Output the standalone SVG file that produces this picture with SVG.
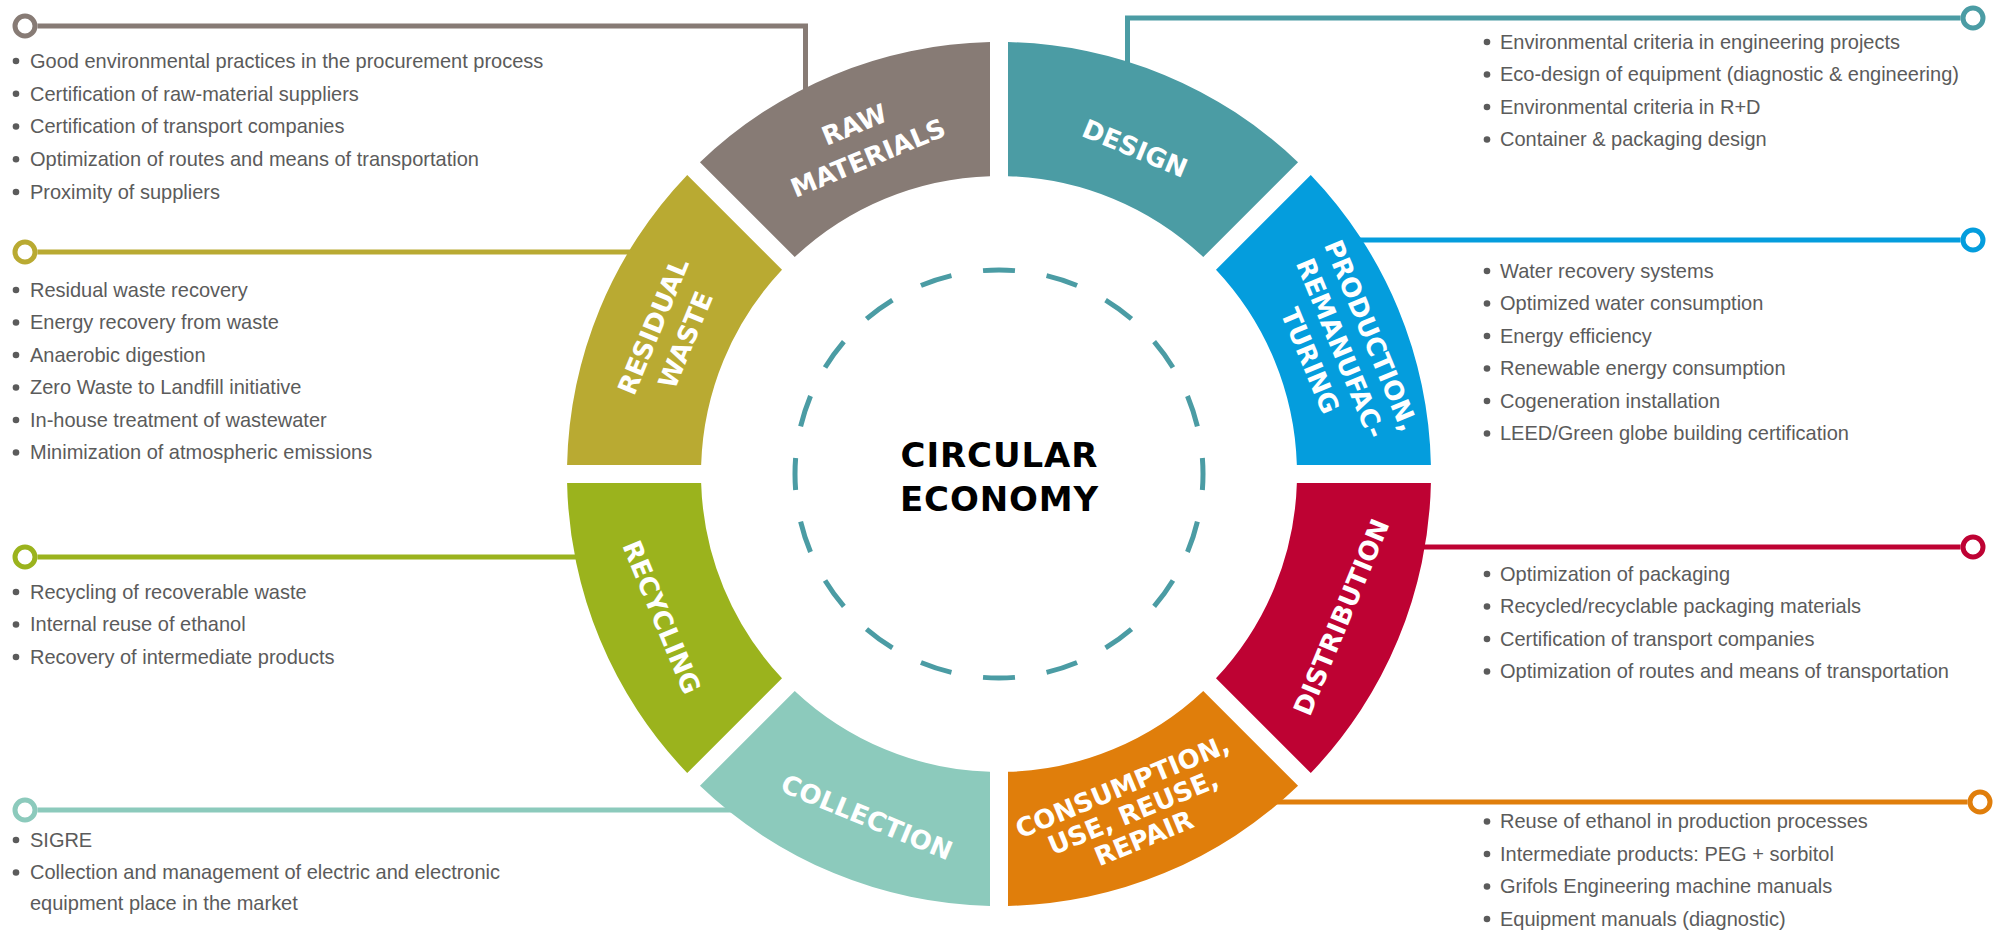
<svg xmlns="http://www.w3.org/2000/svg" width="2002" height="932" viewBox="0 0 2002 932">
<style>
.lbl{font-family:"DejaVu Sans",sans-serif;font-weight:700;font-size:26px;fill:#fff;text-anchor:middle}
.item{font-family:"Liberation Sans",Arial,sans-serif;font-size:21px;fill:#5b5b5b}
.b{fill:#5b5b5b}
.conn{fill:none;stroke-width:5}
.dot{fill:#fff;stroke-width:5}
.center{font-family:"DejaVu Sans",sans-serif;font-weight:700;font-size:34px;fill:#000;text-anchor:middle}
</style>
<rect width="2002" height="932" fill="#fff"/>
<g id="connectors">
  <path class="conn" stroke="#877b75" d="M37.5 26H805.5V100"/>
  <circle class="dot" stroke="#877b75" cx="25" cy="26" r="10"/>
  <path class="conn" stroke="#b9aa32" d="M37.5 252H645"/>
  <circle class="dot" stroke="#b9aa32" cx="25" cy="252" r="10"/>
  <path class="conn" stroke="#9bb31d" d="M37.5 557H590"/>
  <circle class="dot" stroke="#9bb31d" cx="25" cy="557" r="10"/>
  <path class="conn" stroke="#8ccabc" d="M37.5 810H745"/>
  <circle class="dot" stroke="#8ccabc" cx="25" cy="810" r="10"/>
  <path class="conn" stroke="#4b9ca4" d="M1960.5 18H1127.5V80"/>
  <circle class="dot" stroke="#4b9ca4" cx="1973" cy="18" r="10"/>
  <path class="conn" stroke="#049ddd" d="M1960.5 240H1350"/>
  <circle class="dot" stroke="#049ddd" cx="1973" cy="240" r="10"/>
  <path class="conn" stroke="#be0233" d="M1960.5 547H1410"/>
  <circle class="dot" stroke="#be0233" cx="1973" cy="547" r="10"/>
  <path class="conn" stroke="#e07e0b" d="M1967.5 802H1265"/>
  <circle class="dot" stroke="#e07e0b" cx="1980" cy="802" r="10"/>
</g>
<g id="center">
  <circle cx="999" cy="474" r="204" fill="none" stroke="#4b9ca4" stroke-width="5" pathLength="1280" stroke-dasharray="32 32" stroke-dashoffset="16"/>
  <text class="center" x="999" y="467" textLength="197" lengthAdjust="spacing">CIRCULAR</text>
  <text class="center" x="999" y="511" textLength="198" lengthAdjust="spacing">ECONOMY</text>
</g>
<g id="raw-materials">
  <path fill="#877b75" d="M990 42.09A432 432 0 0 0 699.96 162.23L794.74 257.01A298 298 0 0 1 990 176.14Z"/>
  <g transform="translate(861 141) rotate(-22.5)">
    <text class="lbl" x="0" y="-8.5">RAW</text>
    <text class="lbl" x="0" y="27.5">MATERIALS</text>
  </g>
  <g class="b"><circle cx="16" cy="61" r="3.3"/><circle cx="16" cy="93.75" r="3.3"/><circle cx="16" cy="126.5" r="3.3"/><circle cx="16" cy="159.25" r="3.3"/><circle cx="16" cy="192" r="3.3"/></g>
  <g transform="translate(30 0) scale(0.952 1)">
    <text class="item" x="0" y="68">Good environmental practices in the procurement process</text>
    <text class="item" x="0" y="100.75">Certification of raw-material suppliers</text>
    <text class="item" x="0" y="133.5">Certification of transport companies</text>
    <text class="item" x="0" y="166.25">Optimization of routes and means of transportation</text>
    <text class="item" x="0" y="199">Proximity of suppliers</text>
  </g>
</g>
<g id="residual-waste">
  <path fill="#b9aa32" d="M687.23 174.96A432 432 0 0 0 567.09 465L701.14 465A298 298 0 0 1 782.01 269.74Z"/>
  <g transform="translate(669 333) rotate(-67.5)">
    <text class="lbl" x="0" y="-8">RESIDUAL</text>
    <text class="lbl" x="0" y="27">WASTE</text>
  </g>
  <g class="b"><circle cx="16" cy="290" r="3.3"/><circle cx="16" cy="322.5" r="3.3"/><circle cx="16" cy="355" r="3.3"/><circle cx="16" cy="387.5" r="3.3"/><circle cx="16" cy="420" r="3.3"/><circle cx="16" cy="452.5" r="3.3"/></g>
  <g transform="translate(30 0) scale(0.952 1)">
    <text class="item" x="0" y="297">Residual waste recovery</text>
    <text class="item" x="0" y="329.5">Energy recovery from waste</text>
    <text class="item" x="0" y="362">Anaerobic digestion</text>
    <text class="item" x="0" y="394.5">Zero Waste to Landfill initiative</text>
    <text class="item" x="0" y="427">In-house treatment of wastewater</text>
    <text class="item" x="0" y="459.5">Minimization of atmospheric emissions</text>
  </g>
</g>
<g id="recycling">
  <path fill="#9bb31d" d="M567.09 483A432 432 0 0 0 687.23 773.04L782.01 678.26A298 298 0 0 1 701.14 483Z"/>
  <g transform="translate(662 617) rotate(67.5)">
    <text class="lbl" x="0" y="9.5">RECYCLING</text>
  </g>
  <g class="b"><circle cx="16" cy="592" r="3.3"/><circle cx="16" cy="624.5" r="3.3"/><circle cx="16" cy="657" r="3.3"/></g>
  <g transform="translate(30 0) scale(0.952 1)">
    <text class="item" x="0" y="599">Recycling of recoverable waste</text>
    <text class="item" x="0" y="631.5">Internal reuse of ethanol</text>
    <text class="item" x="0" y="664">Recovery of intermediate products</text>
  </g>
</g>
<g id="collection">
  <path fill="#8ccabc" d="M699.96 785.77A432 432 0 0 0 990 905.91L990 771.86A298 298 0 0 1 794.74 690.99Z"/>
  <g transform="translate(867 817) rotate(22.5)">
    <text class="lbl" x="0" y="9.5">COLLECTION</text>
  </g>
  <g class="b"><circle cx="16" cy="840" r="3.3"/><circle cx="16" cy="872.5" r="3.3"/></g>
  <g transform="translate(30 0) scale(0.952 1)">
    <text class="item" x="0" y="847">SIGRE</text>
    <text class="item" x="0" y="879.5">Collection and management of electric and electronic</text>
    <text class="item" x="0" y="910">equipment place in the market</text>
  </g>
</g>
<g id="consumption">
  <path fill="#e07e0b" d="M1008 905.91A432 432 0 0 0 1298.04 785.77L1203.26 690.99A298 298 0 0 1 1008 771.86Z"/>
  <g transform="translate(1133 812) rotate(-22.5)">
    <text class="lbl" x="0" y="-18.5">CONSUMPTION,</text>
    <text class="lbl" x="0" y="9.5">USE, REUSE,</text>
    <text class="lbl" x="0" y="37.5">REPAIR</text>
  </g>
  <g class="b"><circle cx="1487" cy="821.5" r="3.3"/><circle cx="1487" cy="854" r="3.3"/><circle cx="1487" cy="886.5" r="3.3"/><circle cx="1487" cy="919" r="3.3"/></g>
  <g transform="translate(1500 0) scale(0.952 1)">
    <text class="item" x="0" y="828.5">Reuse of ethanol in production processes</text>
    <text class="item" x="0" y="861">Intermediate products: PEG + sorbitol</text>
    <text class="item" x="0" y="893.5">Grifols Engineering machine manuals</text>
    <text class="item" x="0" y="926">Equipment manuals (diagnostic)</text>
  </g>
</g>
<g id="distribution">
  <path fill="#be0233" d="M1310.77 773.04A432 432 0 0 0 1430.91 483L1296.86 483A298 298 0 0 1 1215.99 678.26Z"/>
  <g transform="translate(1341 617) rotate(-67.5)">
    <text class="lbl" x="0" y="9.5">DISTRIBUTION</text>
  </g>
  <g class="b"><circle cx="1487" cy="574" r="3.3"/><circle cx="1487" cy="606.5" r="3.3"/><circle cx="1487" cy="639" r="3.3"/><circle cx="1487" cy="671.5" r="3.3"/></g>
  <g transform="translate(1500 0) scale(0.952 1)">
    <text class="item" x="0" y="581">Optimization of packaging</text>
    <text class="item" x="0" y="613.5">Recycled/recyclable packaging materials</text>
    <text class="item" x="0" y="646">Certification of transport companies</text>
    <text class="item" x="0" y="678.5">Optimization of routes and means of transportation</text>
  </g>
</g>
<g id="production">
  <path fill="#049ddd" d="M1430.91 465A432 432 0 0 0 1310.77 174.96L1215.99 269.74A298 298 0 0 1 1296.86 465Z"/>
  <g transform="translate(1341 348) rotate(67.5)">
    <text class="lbl" x="0" y="-23.5">PRODUCTION,</text>
    <text class="lbl" x="0" y="9.5">REMANUFAC-</text>
    <text class="lbl" x="0" y="42.5">TURING</text>
  </g>
  <g class="b"><circle cx="1487" cy="271" r="3.3"/><circle cx="1487" cy="303.5" r="3.3"/><circle cx="1487" cy="336" r="3.3"/><circle cx="1487" cy="368.5" r="3.3"/><circle cx="1487" cy="401" r="3.3"/><circle cx="1487" cy="433.5" r="3.3"/></g>
  <g transform="translate(1500 0) scale(0.952 1)">
    <text class="item" x="0" y="278">Water recovery systems</text>
    <text class="item" x="0" y="310.5">Optimized water consumption</text>
    <text class="item" x="0" y="343">Energy efficiency</text>
    <text class="item" x="0" y="375.5">Renewable energy consumption</text>
    <text class="item" x="0" y="408">Cogeneration installation</text>
    <text class="item" x="0" y="440.5">LEED/Green globe building certification</text>
  </g>
</g>
<g id="design">
  <path fill="#4b9ca4" d="M1298.04 162.23A432 432 0 0 0 1008 42.09L1008 176.14A298 298 0 0 1 1203.26 257.01Z"/>
  <g transform="translate(1135 148) rotate(22.5)">
    <text class="lbl" x="0" y="9.5">DESIGN</text>
  </g>
  <g class="b"><circle cx="1487" cy="42" r="3.3"/><circle cx="1487" cy="74.5" r="3.3"/><circle cx="1487" cy="107" r="3.3"/><circle cx="1487" cy="139.5" r="3.3"/></g>
  <g transform="translate(1500 0) scale(0.952 1)">
    <text class="item" x="0" y="49">Environmental criteria in engineering projects</text>
    <text class="item" x="0" y="81.5">Eco-design of equipment (diagnostic &amp; engineering)</text>
    <text class="item" x="0" y="114">Environmental criteria in R+D</text>
    <text class="item" x="0" y="146.5">Container &amp; packaging design</text>
  </g>
</g>
</svg>
